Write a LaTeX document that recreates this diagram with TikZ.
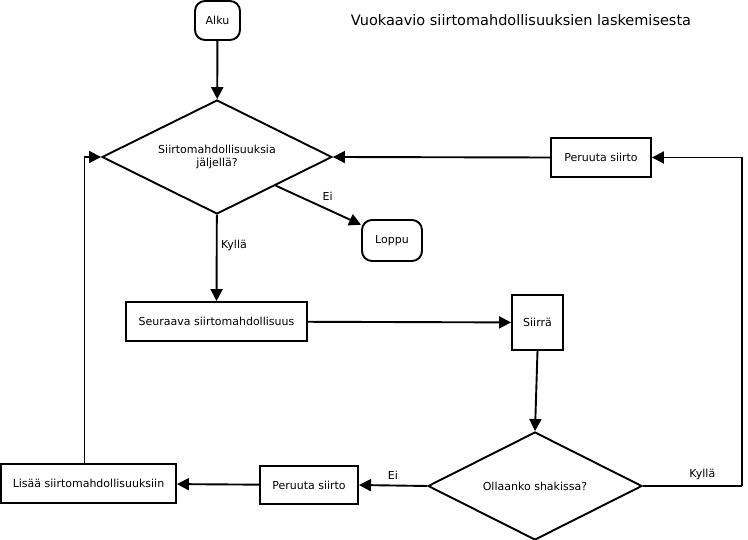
\documentclass[tikz,border=0pt]{standalone}
\usepackage{fontspec}
\setmainfont{DejaVu Sans}
\usepgflibrary{shapes}
\usetikzlibrary{arrows.meta}

\begin{document}
\begin{tikzpicture}[x=1pt, y=-1pt, line width=1.9pt,
        every node/.style = {font=\fontsize{11}{13.5}\selectfont},
        box/.style = {draw, rectangle, minimum height=39pt},
        term/.style = {draw, rectangle, rounded corners=10pt},
        dec/.style = {draw, diamond, aspect=2, inner sep=0pt, align=center},
        >={Triangle[length=12pt, width=12pt]}]
        \useasboundingbox (0,0) rectangle (748,540);

        \node (9) at (521,20) [font=\fontsize{14.5}{17}\selectfont] {Vuokaavio siirtomahdollisuuksien laskemisesta};

        \node[term, minimum width=45pt, minimum height=39pt] (0) at (217.5,20.5) {Alku};
        \node[dec, minimum width=230pt, minimum height=114pt] (1) at (217,157) {Siirtomahdollisuuksia\\jäljellä?};
        \node[term, minimum width=60pt, minimum height=41pt] (2) at (392,240.5) {Loppu};
        \node[box, minimum width=181pt] (3) at (216.5,321.5) {Seuraava siirtomahdollisuus};
        \node[box, minimum width=51pt, minimum height=55pt] (4) at (537.5,322.5) {Siirrä};
        \node[dec, minimum width=214pt, minimum height=108pt] (5) at (535,486) {Ollaanko shakissa?};
        \node[box, minimum width=98pt, minimum height=38pt] (6) at (309,485) {Peruuta siirto};
        \node[box, minimum width=175pt] (7) at (88.5,483.5) {Lisää siirtomahdollisuuksiin};
        \node[box, minimum width=100pt] (8) at (601,157.5) {Peruuta siirto};
        \coordinate (k) at (742,486);

        \draw[->] (0) -- (1);
        \draw[->] (1.-26.6) -- node[midway, above right] {Ei} (2.153);
        \draw[->] (1) -- node[pos=0.35, right] {Kyllä} (3);

        \draw[->] (3) -- (4);
        \draw[->] (4.south) -- (5.north);

        \draw[->] (5.west) -- node[midway, above=2pt] {Ei} (6.east);
        \draw[->] (6) -- (7);
        \draw[->] ([xshift=-4pt]7.north) |- (1.west);

        \draw (5.east) -- node[pos=0.6, above=2pt] {Kyllä} (k);
        \draw[->] (k) |- (8.east);
        \draw[->] (8.west) -- (1.east);
\end{tikzpicture}
\end{document}
